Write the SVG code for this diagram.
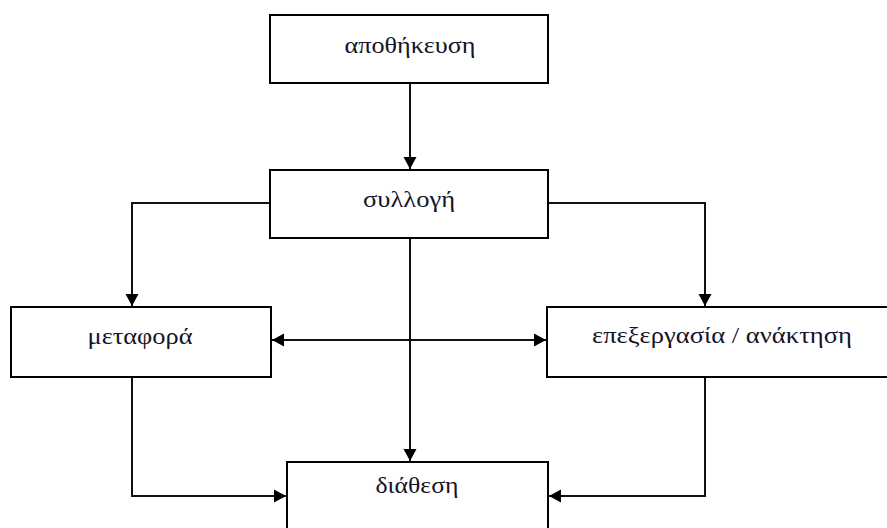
<svg xmlns="http://www.w3.org/2000/svg" width="887" height="528" viewBox="0 0 887 528">
<defs>
<marker id="ah" markerUnits="userSpaceOnUse" markerWidth="14" markerHeight="16" viewBox="0 0 14 16" refX="13" refY="8" orient="auto-start-reverse">
<path d="M1,1.5 L13,8 L1,14.5 Z" fill="#000"/>
</marker>
<style>
.box{fill:#fff;stroke:#000;stroke-width:2}
.lbl{font-family:"Liberation Serif","Times New Roman",serif;font-size:23px;fill:#14142a;text-anchor:middle}
.con{fill:none;stroke:#111;stroke-width:2}
</style>
</defs>
<rect width="887" height="528" fill="#fff"/>
<g id="connectors">
<path class="con" d="M410,83 V169" marker-end="url(#ah)"/>
<path class="con" d="M270,203 H132 V306" marker-end="url(#ah)"/>
<path class="con" d="M548,203 H705 V306" marker-end="url(#ah)"/>
<path class="con" d="M272,340 H546" marker-start="url(#ah)" marker-end="url(#ah)"/>
<path class="con" d="M410,238 V461" marker-end="url(#ah)"/>
<path class="con" d="M132,377 V496 H286" marker-end="url(#ah)"/>
<path class="con" d="M705,377 V496 H549" marker-end="url(#ah)"/>
</g>
<g id="n1"><rect class="box" x="270" y="15" width="278" height="68"/><text class="lbl" x="410" y="53" textLength="131" lengthAdjust="spacingAndGlyphs">αποθήκευση</text></g>
<g id="n2"><rect class="box" x="270" y="170" width="278" height="68"/><text class="lbl" x="409" y="207" textLength="92" lengthAdjust="spacingAndGlyphs">συλλογή</text></g>
<g id="n3"><rect class="box" x="11" y="307" width="260" height="70"/><text class="lbl" x="140" y="344" textLength="105" lengthAdjust="spacingAndGlyphs">μεταφορά</text></g>
<g id="n4"><rect class="box" x="547" y="307" width="345" height="70"/><text class="lbl" x="722" y="343" textLength="260" lengthAdjust="spacingAndGlyphs">επεξεργασία / ανάκτηση</text></g>
<g id="n5"><rect class="box" x="287" y="462" width="261" height="75"/><text class="lbl" x="417" y="493" textLength="83" lengthAdjust="spacingAndGlyphs">διάθεση</text></g>
</svg>
